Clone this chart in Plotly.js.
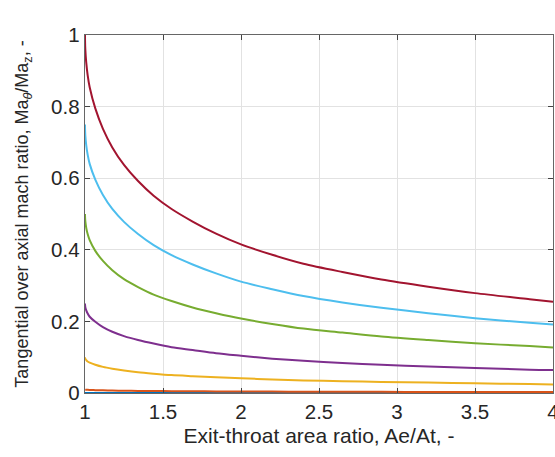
<!DOCTYPE html>
<html>
<head>
<meta charset="utf-8">
<script src="https://cdn.plot.ly/plotly-3.0.1.min.js"></script>
<style>html,body{margin:0;padding:0;background:#fff;}#chart{width:555px;height:457px;}</style>
</head>
<body>
<div id="chart"></div>
<script>
// Exit-throat area ratio
const areaRatio = [1, 1.0003, 1.002, 1.008, 1.017, 1.03, 1.066, 1.115, 1.175, 1.25, 1.34, 1.44, 1.555, 1.69, 1.84, 2, 2.2, 2.4, 2.65, 2.9, 3.2, 3.5, 3.85, 4];
// Ma_theta / Ma_z for each swirl level
const swirl000 = [0, 0, 0, 0, 0, 0, 0, 0, 0, 0, 0, 0, 0, 0, 0, 0, 0, 0, 0, 0, 0, 0, 0, 0];
const swirl001 = [0.010, 0.0098, 0.0096, 0.0092, 0.0089, 0.0085, 0.0080, 0.0074, 0.0069, 0.0064, 0.0059, 0.0055, 0.0051, 0.0048, 0.0045, 0.0042, 0.0039, 0.0036, 0.0034, 0.0032, 0.0030, 0.0028, 0.0026, 0.0026];
const swirl010 = [0.100, 0.098, 0.096, 0.092, 0.088, 0.085, 0.079, 0.073, 0.068, 0.063, 0.058, 0.054, 0.050, 0.047, 0.044, 0.041, 0.038, 0.035, 0.033, 0.031, 0.029, 0.027, 0.025, 0.024];
const swirl025 = [0.250, 0.246, 0.240, 0.231, 0.222, 0.213, 0.199, 0.184, 0.171, 0.159, 0.148, 0.138, 0.128, 0.120, 0.111, 0.104, 0.096, 0.090, 0.084, 0.079, 0.074, 0.070, 0.065, 0.064];
const swirl050 = [0.500, 0.492, 0.480, 0.461, 0.444, 0.427, 0.397, 0.369, 0.343, 0.318, 0.296, 0.275, 0.257, 0.239, 0.223, 0.208, 0.193, 0.180, 0.169, 0.158, 0.148, 0.139, 0.131, 0.127];
const swirl075 = [0.750, 0.738, 0.720, 0.692, 0.666, 0.640, 0.596, 0.553, 0.514, 0.478, 0.444, 0.413, 0.385, 0.359, 0.334, 0.311, 0.290, 0.271, 0.253, 0.238, 0.223, 0.209, 0.196, 0.191];
const swirl100 = [1.000, 0.984, 0.960, 0.923, 0.888, 0.854, 0.795, 0.738, 0.686, 0.637, 0.592, 0.551, 0.514, 0.479, 0.445, 0.415, 0.386, 0.361, 0.338, 0.317, 0.297, 0.279, 0.262, 0.255];

const series = [swirl000, swirl001, swirl010, swirl025, swirl050, swirl075, swirl100];
const colors = ['#0072BD', '#D95319', '#EDB120', '#7E2F8E', '#77AC30', '#4DBEEE', '#A2142F'];

const traces = series.map((s, i) => ({
  x: areaRatio, y: s, type: 'scatter', mode: 'lines',
  line: {color: colors[i], width: 2, shape: 'spline', smoothing: 0.8},
  showlegend: false, hoverinfo: 'skip', cliponaxis: true
}));

const FONT = 'Liberation Sans, Arial, sans-serif';
const axisCommon = {
  showline: true, mirror: 'ticks', linecolor: '#666', linewidth: 1.3,
  ticks: 'inside', ticklen: 5, tickwidth: 1, tickcolor: '#444',
  showgrid: true, gridcolor: '#e2e2e2', gridwidth: 1,
  zeroline: false, automargin: false, ticklabeloverflow: 'allow',
  tickfont: {family: FONT, size: 20.5, color: '#262626'}
};

const layout = {
  width: 555, height: 457,
  margin: {l: 85, r: 2, t: 35, b: 64},
  paper_bgcolor: '#fff', plot_bgcolor: '#fff',
  font: {family: FONT, color: '#262626'},
  xaxis: Object.assign({}, axisCommon, {
    range: [1, 4], tickvals: [1, 1.5, 2, 2.5, 3, 3.5, 4], ticktext: ['1', '1.5', '2', '2.5', '3', '3.5', '4'],
    title: {text: 'Exit-throat area ratio, Ae/At, -', font: {family: FONT, size: 21, color: '#262626'}, standoff: 6}
  }),
  yaxis: Object.assign({}, axisCommon, {
    range: [0, 1], tickvals: [0, 0.2, 0.4, 0.6, 0.8, 1], ticktext: ['0', '0.2', '0.4', '0.6', '0.8', '1'],
    title: {text: 'Tangential over axial mach ratio, Ma<sub><i>θ</i></sub>/Ma<sub>z</sub>, -', font: {family: FONT, size: 18, color: '#262626'}, standoff: 17}
  })
};

Plotly.newPlot('chart', traces, layout, {staticPlot: true, displayModeBar: false});
</script>
</body>
</html>
